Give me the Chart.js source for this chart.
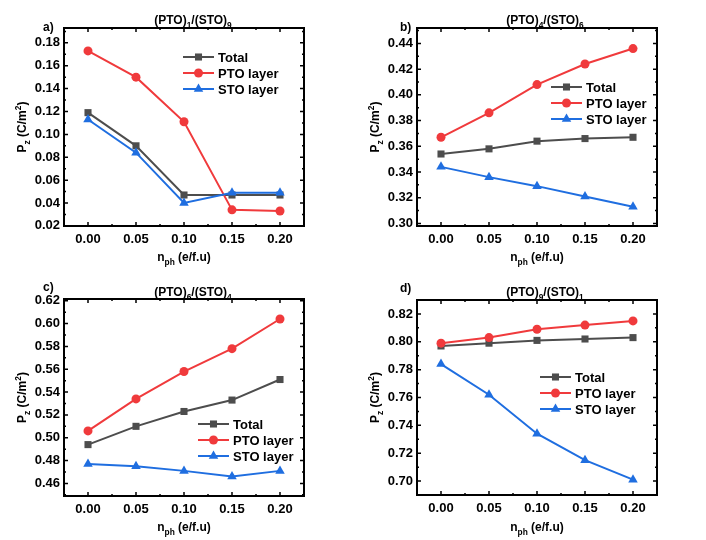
<!DOCTYPE html>
<html lang="en">
<head>
    <meta charset="UTF-8" />
    <title>Pz vs nph</title>
    <style>
        body {
            margin: 0;
            background: #fff;
        }

        #wrap {
            position: relative;
            width: 706px;
            height: 540px;
        }

        canvas {
            position: absolute;
        }
    </style>
    <script src="https://cdn.jsdelivr.net/npm/chart.js"></script>
</head>
<body>
    <div id="wrap">
        <canvas id="chartA" width="353" height="270" style="left:0;top:0"></canvas>
        <canvas id="chartB" width="353" height="270" style="left:353px;top:0"></canvas>
        <canvas id="chartC" width="353" height="270" style="left:0;top:270px"></canvas>
        <canvas id="chartD" width="353" height="270" style="left:353px;top:270px"></canvas>
    </div>

    <script>
        // photo-electron doping n_ph (e/f.u)
        const nph = [0.00, 0.05, 0.10, 0.15, 0.20];
        const xTicks = [0.00, 0.05, 0.10, 0.15, 0.20];

        // a) (PTO)1/(STO)9
        const totalA = [0.119, 0.090, 0.047, 0.047, 0.047];
        const ptoA = [0.173, 0.150, 0.111, 0.034, 0.033];
        const stoA = [0.113, 0.084, 0.040, 0.049, 0.049];
        const yTicksA = [0.02, 0.04, 0.06, 0.08, 0.10, 0.12, 0.14, 0.16, 0.18];

        // b) (PTO)4/(STO)6
        const totalB = [0.354, 0.358, 0.364, 0.366, 0.367];
        const ptoB = [0.367, 0.386, 0.408, 0.424, 0.436];
        const stoB = [0.344, 0.336, 0.329, 0.321, 0.313];
        const yTicksB = [0.30, 0.32, 0.34, 0.36, 0.38, 0.40, 0.42, 0.44];

        // c) (PTO)6/(STO)4
        const totalC = [0.494, 0.510, 0.523, 0.533, 0.551];
        const ptoC = [0.506, 0.534, 0.558, 0.578, 0.604];
        const stoC = [0.477, 0.475, 0.471, 0.466, 0.471];
        const yTicksC = [0.46, 0.48, 0.50, 0.52, 0.54, 0.56, 0.58, 0.60, 0.62];

        // d) (PTO)9/(STO)1
        const totalD = [0.797, 0.799, 0.801, 0.802, 0.803];
        const ptoD = [0.799, 0.803, 0.809, 0.812, 0.815];
        const stoD = [0.784, 0.762, 0.734, 0.715, 0.701];
        const yTicksD = [0.70, 0.72, 0.74, 0.76, 0.78, 0.80, 0.82];

        const FONT = "'Liberation Sans', Arial, sans-serif";
        const GRAY = "#4d4d4d";
        const RED = "#f03a3c";
        const BLUE = "#1f6ee0";

        function pts(ys) {
            return nph.map((x, i) => ({ x: x, y: ys[i] }));
        }

        // draw text made of pieces, some sub/superscript
        function richWidth(ctx, parts, size) {
            let w = 0;
            parts.forEach((p) => {
                ctx.font = "bold " + (p.s ? size * 0.7 : size) + "px " + FONT;
                w += ctx.measureText(p.t).width;
            });
            return w;
        }

        function drawRich(ctx, parts, x, y, size) {
            // x = centre, y = baseline
            let cx = x - richWidth(ctx, parts, size) / 2;
            parts.forEach((p) => {
                const sz = p.s ? size * 0.7 : size;
                ctx.font = "bold " + sz + "px " + FONT;
                let dy = 0;
                if (p.s === "sub") dy = size * 0.3;
                if (p.s === "sup") dy = -size * 0.42;
                ctx.fillText(p.t, cx, y + dy);
                cx += ctx.measureText(p.t).width;
            });
        }

        const frame = {
            id: "frame",
            afterDraw(chart, args, opts) {
                const ctx = chart.ctx;
                const a = chart.chartArea;
                const xs = chart.scales.x;
                const ys = chart.scales.y;
                ctx.save();
                ctx.strokeStyle = "#000";
                ctx.lineWidth = 2;
                ctx.strokeRect(a.left, a.top, a.right - a.left, a.bottom - a.top);

                // inward ticks on all four sides
                ctx.lineWidth = 1.5;
                const tick = (scale, vals, len) => {
                    vals.forEach((v) => {
                        if (v < scale.min || v > scale.max) return;
                        const p = scale.getPixelForValue(v);
                        ctx.beginPath();
                        if (scale.axis === "x") {
                            ctx.moveTo(p, a.bottom); ctx.lineTo(p, a.bottom - len);
                            ctx.moveTo(p, a.top); ctx.lineTo(p, a.top + len);
                        } else {
                            ctx.moveTo(a.left, p); ctx.lineTo(a.left + len, p);
                            ctx.moveTo(a.right, p); ctx.lineTo(a.right - len, p);
                        }
                        ctx.stroke();
                    });
                };
                const minors = (vals) => {
                    const step = vals[1] - vals[0];
                    const m = [vals[0] - step / 2];
                    vals.forEach((v) => m.push(v + step / 2));
                    return m;
                };
                tick(xs, opts.xt, 4);
                tick(xs, minors(opts.xt), 2);
                tick(ys, opts.yt, 4);
                tick(ys, minors(opts.yt), 2);

                // titles
                ctx.fillStyle = "#000";
                ctx.textAlign = "left";
                ctx.textBaseline = "alphabetic";
                ctx.font = "bold 12px " + FONT;
                ctx.fillText(opts.tag, opts.tagX, opts.tagY);
                drawRich(ctx, opts.title, opts.titleX, opts.titleY, 12);
                drawRich(ctx, [{ t: "n" }, { t: "ph", s: "sub" }, { t: " (e/f.u)" }],
                    (a.left + a.right) / 2, 261, 12);
                ctx.save();
                ctx.translate(26, (a.top + a.bottom) / 2);
                ctx.rotate(-Math.PI / 2);
                drawRich(ctx, [{ t: "P" }, { t: "z", s: "sub" }, { t: " (C/m" }, { t: "2", s: "sup" }, { t: ")" }],
                    0, 0, 12);
                ctx.restore();

                // legend
                chart.data.datasets.forEach((ds, i) => {
                    const y = opts.legY + i * 16;
                    const x0 = opts.legX;
                    ctx.strokeStyle = ds.borderColor;
                    ctx.fillStyle = ds.borderColor;
                    ctx.lineWidth = 2;
                    ctx.beginPath();
                    ctx.moveTo(x0, y);
                    ctx.lineTo(x0 + 31, y);
                    ctx.stroke();
                    Chart.helpers.drawPoint(ctx, {
                        pointStyle: ds.pointStyle,
                        radius: ds.pointRadius,
                        rotation: 0,
                        borderWidth: 0,
                    }, x0 + 15.5, y);
                    ctx.fillStyle = "#000";
                    ctx.font = "bold 13px " + FONT;
                    ctx.textBaseline = "middle";
                    ctx.fillText(ds.label, x0 + 35, y + 1);
                    ctx.textBaseline = "alphabetic";
                });
                ctx.restore();
            },
        };

        function makePanel(id, total, pto, sto, yTicks, yMin, yMax, top, bottom, extra) {
            new Chart(document.getElementById(id).getContext("2d"), {
                type: "line",
                data: {
                    datasets: [
                        {
                            label: "Total",
                            data: pts(total),
                            borderColor: GRAY,
                            backgroundColor: GRAY,
                            pointStyle: "rect",
                            pointRadius: 5,
                            order: 2,
                        },
                        {
                            label: "PTO layer",
                            data: pts(pto),
                            borderColor: RED,
                            backgroundColor: RED,
                            pointStyle: "circle",
                            pointRadius: 4.5,
                            order: 1,
                        },
                        {
                            label: "STO layer",
                            data: pts(sto),
                            borderColor: BLUE,
                            backgroundColor: BLUE,
                            pointStyle: "triangle",
                            pointRadius: 5.5,
                            order: 0,
                        },
                    ].map((d) => Object.assign(d, {
                        borderWidth: 2,
                        pointBorderWidth: 0,
                        pointHoverRadius: d.pointRadius,
                        tension: 0,
                    })),
                },
                options: {
                    responsive: false,
                    animation: false,
                    clip: false,
                    layout: { padding: { top: top, right: 49, bottom: 270 - bottom - 44, left: 0 } },
                    plugins: {
                        legend: { display: false },
                        tooltip: { enabled: false },
                        frame: Object.assign({ xt: xTicks, yt: yTicks }, extra),
                    },
                    scales: {
                        x: {
                            type: "linear",
                            min: -0.025,
                            max: 0.225,
                            afterBuildTicks: (s) => { s.ticks = xTicks.map((v) => ({ value: v })); },
                            afterFit: (s) => { s.height = 44; },
                            grid: { display: false, drawTicks: false },
                            border: { display: false },
                            ticks: {
                                padding: 6,
                                color: "#000",
                                font: { family: FONT, size: 13, weight: "bold" },
                                callback: (v) => v.toFixed(2),
                            },
                        },
                        y: {
                            min: yMin,
                            max: yMax,
                            afterBuildTicks: (s) => { s.ticks = yTicks.map((v) => ({ value: v })); },
                            afterFit: (s) => { s.width = 64; },
                            grid: { display: false, drawTicks: false },
                            border: { display: false },
                            ticks: {
                                padding: 4,
                                color: "#000",
                                font: { family: FONT, size: 13, weight: "bold" },
                                callback: (v) => v.toFixed(2),
                            },
                        },
                    },
                },
                plugins: [frame],
            });
        }

        const sub = (s) => ({ t: s, s: "sub" });

        makePanel("chartA", totalA, ptoA, stoA, yTicksA, 0.0199, 0.193, 28, 226, {
            tag: "a)", tagX: 43, tagY: 31,
            title: [{ t: "(PTO)" }, sub("1"), { t: "/(STO)" }, sub("9")], titleX: 193, titleY: 24,
            legX: 183, legY: 57,
        });
        makePanel("chartB", totalB, ptoB, stoB, yTicksB, 0.298, 0.452, 28, 226, {
            tag: "b)", tagX: 47, tagY: 31,
            title: [{ t: "(PTO)" }, sub("4"), { t: "/(STO)" }, sub("6")], titleX: 192, titleY: 24,
            legX: 198, legY: 87,
        });
        makePanel("chartC", totalC, ptoC, stoC, yTicksC, 0.449, 0.6215, 29, 226, {
            tag: "c)", tagX: 43, tagY: 21,
            title: [{ t: "(PTO)" }, sub("6"), { t: "/(STO)" }, sub("4")], titleX: 193, titleY: 26,
            legX: 198, legY: 154,
        });
        makePanel("chartD", totalD, ptoD, stoD, yTicksD, 0.690, 0.830, 30, 225, {
            tag: "d)", tagX: 47, tagY: 22,
            title: [{ t: "(PTO)" }, sub("9"), { t: "/(STO)" }, sub("1")], titleX: 192, titleY: 26,
            legX: 187, legY: 107,
        });
    </script>
</body>
</html>
